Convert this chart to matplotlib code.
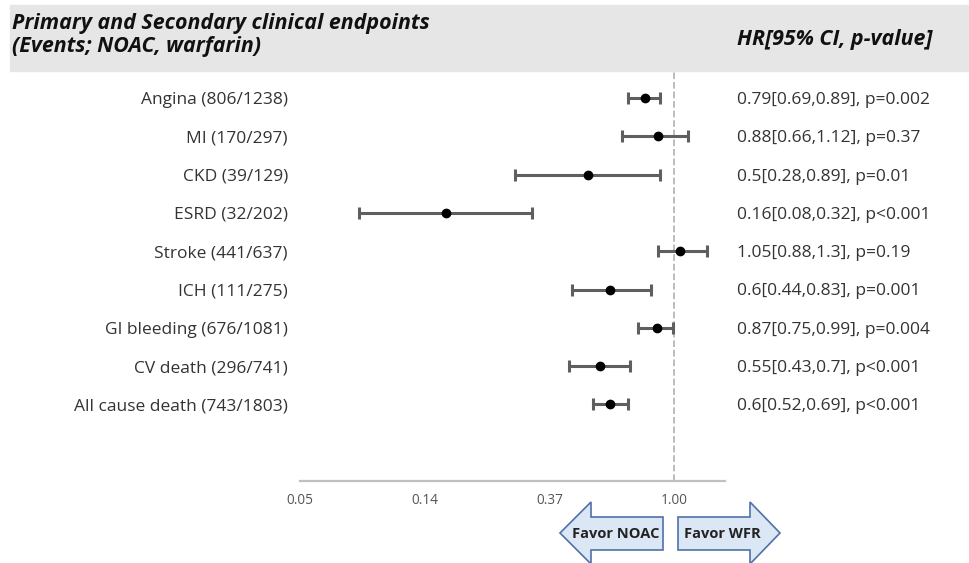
import numpy as np
import matplotlib.pyplot as plt
from matplotlib.patches import Rectangle, Polygon
from matplotlib.transforms import blended_transform_factory

# data
endpoints = ['Angina (806/1238)', 'MI (170/297)', 'CKD (39/129)', 'ESRD (32/202)',
             'Stroke (441/637)', 'ICH (111/275)', 'GI bleeding (676/1081)',
             'CV death (296/741)', 'All cause death (743/1803)']
hr = [0.79, 0.88, 0.5, 0.16, 1.05, 0.6, 0.87, 0.55, 0.6]
ci_low = [0.69, 0.66, 0.28, 0.08, 0.88, 0.44, 0.75, 0.43, 0.52]
ci_high = [0.89, 1.12, 0.89, 0.32, 1.3, 0.83, 0.99, 0.7, 0.69]
pvals = ['p=0.002', 'p=0.37', 'p=0.01', 'p<0.001', 'p=0.19', 'p=0.001',
         'p=0.004', 'p<0.001', 'p<0.001']
tick_vals = [np.exp(-3), np.exp(-2), np.exp(-1), 1.0]
tick_labels = ['0.05', '0.14', '0.37', '1.00']

plt.rcParams['font.family'] = ['Open Sans', 'DejaVu Sans']

W, H = 969, 563
fig = plt.figure(figsize=(W / 100, H / 100), dpi=100)

def fx(px):
    return px / W

def fy(py):
    return 1 - py / H

# header band
fig.patches.append(Rectangle((fx(10), fy(71)), 1 - fx(10), fy(5) - fy(71),
                             transform=fig.transFigure, color='#e6e6e6', zorder=0))
fig.text(fx(12), fy(35), 'Primary and Secondary clinical endpoints\n(Events; NOAC, warfarin)',
         fontsize=15.4, fontweight='bold', style='italic', color='#111111',
         ha='left', va='center', linespacing=1.08)
fig.text(fx(737), fy(39), 'HR[95% CI, p-value]', fontsize=15.4, fontweight='bold',
         style='italic', color='#111111', ha='left', va='center')

ax = fig.add_axes([fx(300), fy(481), fx(725) - fx(300), fy(72) - fy(481)])
ax.set_xscale('log')
ax.set_xlim(np.exp(-2.99), np.exp(0.408))
n = len(endpoints)
y = np.arange(n)
ax.set_ylim(10.0, -0.68)

hr_a = np.array(hr)
xerr = [hr_a - np.array(ci_low), np.array(ci_high) - hr_a]
ax.errorbar(hr, y, xerr=xerr, fmt='o', color='black', markersize=6,
            ecolor='#5f5f5f', elinewidth=2.2, capsize=4, capthick=2.2, zorder=3)
ax.axvline(1.0, color='#b8b8b8', linestyle='--', linewidth=1.3, zorder=1)

for s in ['top', 'left', 'right']:
    ax.spines[s].set_visible(False)
ax.spines['bottom'].set_color('#c0c0c0')
ax.spines['bottom'].set_linewidth(1.6)
ax.set_yticks([])
ax.set_xticks(tick_vals)
ax.set_xticklabels(tick_labels)
ax.xaxis.set_minor_locator(plt.NullLocator())
ax.tick_params(axis='x', length=0, pad=9, labelsize=9.8, labelcolor='#555555')

tr = blended_transform_factory(fig.transFigure, ax.transData)
for i in range(n):
    ax.text(fx(288), y[i] + 0.05, endpoints[i], transform=tr, ha='right', va='center',
            fontsize=12.5, color='#333333')
    ax.text(fx(737), y[i] + 0.05, f'{hr[i]}[{ci_low[i]},{ci_high[i]}], {pvals[i]}',
            transform=tr, ha='left', va='center', fontsize=12.5, color='#333333')

# favour arrows
cy = 533
left_arrow = [(560, cy), (591, cy - 31), (591, cy - 16), (663, cy - 16),
              (663, cy + 17), (591, cy + 17), (591, cy + 31)]
right_arrow = [(678, cy - 16), (750, cy - 16), (750, cy - 31), (780, cy),
               (750, cy + 31), (750, cy + 17), (678, cy + 17)]
for pts in [left_arrow, right_arrow]:
    fig.patches.append(Polygon([(fx(a), fy(b)) for a, b in pts], closed=True,
                               transform=fig.transFigure, facecolor='#dce7f5',
                               edgecolor='#4f71a8', linewidth=1.2))
fig.text(fx(616), fy(cy + 1), 'Favor NOAC', fontsize=10.5, fontweight='bold',
         color='#222222', ha='center', va='center')
fig.text(fx(722), fy(cy + 1), 'Favor WFR', fontsize=10.5, fontweight='bold',
         color='#222222', ha='center', va='center')

fig.savefig('out.png', dpi=100, facecolor='white')
